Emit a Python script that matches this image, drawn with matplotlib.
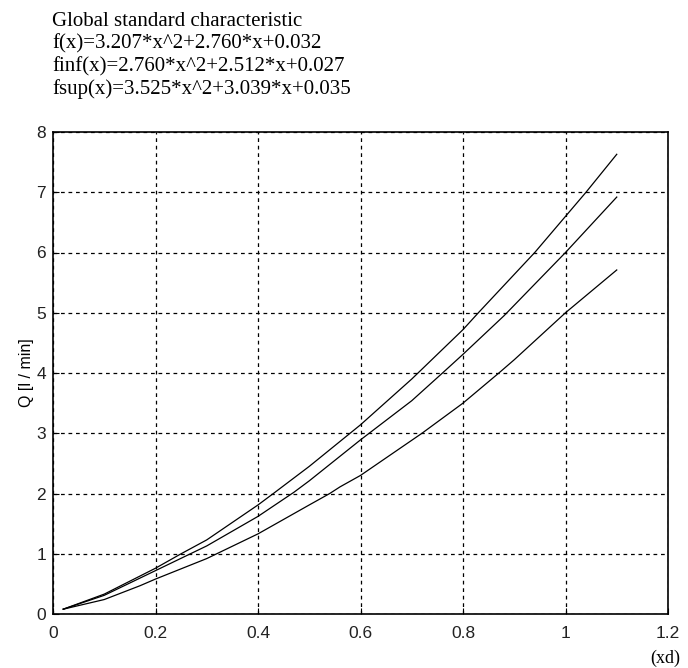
import matplotlib.pyplot as plt

# curves (x = xd, y = Q)
x_sup = [0.02, 0.10, 0.20, 0.25, 0.30, 0.40, 0.43, 0.50, 0.60, 0.70, 0.80, 0.83, 0.94, 1.04, 1.10]
y_sup = [0.08, 0.33, 0.76, 1.00, 1.23, 1.81, 2.00, 2.45, 3.14, 3.90, 4.72, 5.00, 6.00, 7.00, 7.63]

x_mid = [0.02, 0.10, 0.20, 0.30, 0.40, 0.47, 0.50, 0.60, 0.70, 0.76, 0.80, 0.88, 1.00, 1.10]
y_mid = [0.08, 0.31, 0.72, 1.13, 1.62, 2.02, 2.21, 2.89, 3.54, 4.00, 4.31, 4.95, 6.00, 6.92]

x_inf = [0.02, 0.10, 0.17, 0.20, 0.30, 0.40, 0.50, 0.54, 0.56, 0.60, 0.72, 0.80, 0.87, 0.90, 1.00, 1.10]
y_inf = [0.08, 0.24, 0.47, 0.58, 0.92, 1.33, 1.81, 2.00, 2.11, 2.30, 3.00, 3.50, 4.00, 4.22, 5.00, 5.71]

x_ticks = [0, 0.2, 0.4, 0.6, 0.8, 1, 1.2]
x_tick_labels = ['0', '0.2', '0.4', '0.6', '0.8', '1', '1.2']
y_ticks = [0, 1, 2, 3, 4, 5, 6, 7, 8]

header = ['Global standard characteristic',
          'f(x)=3.207*x^2+2.760*x+0.032',
          'finf(x)=2.760*x^2+2.512*x+0.027',
          'fsup(x)=3.525*x^2+3.039*x+0.035']

fig = plt.figure(figsize=(6.88, 6.68), dpi=100)
ax = fig.add_axes([53 / 688, 54 / 668, 615 / 688, 482 / 668])

for xs, ys in [(x_sup, y_sup), (x_mid, y_mid), (x_inf, y_inf)]:
    ax.plot(xs, ys, color='black', lw=0.9)

ax.set_xlim(0, 1.2)
ax.set_ylim(0, 8)
ax.set_xticks(x_ticks)
ax.set_xticklabels(x_tick_labels)
ax.set_yticks(y_ticks)
ax.grid(True, color='black', linestyle=(0, (3, 3)), lw=0.9)
ax.tick_params(direction='in', length=4, labelsize=12.5)
ax.tick_params(axis='x', pad=9)
ax.tick_params(axis='y', pad=5)
for lab in ax.get_xticklabels() + ax.get_yticklabels():
    lab.set_family('Liberation Sans')
    lab.set_color('#222222')
for sp in ax.spines.values():
    sp.set_linewidth(1.2)

ax.set_ylabel('Q [l / min]', family='Liberation Sans', fontsize=11.5, labelpad=2)

fig.text(665 / 688, 1 - 658 / 668, '(xd)', family='Liberation Serif', fontsize=13,
         ha='center', va='center')

for i, line in enumerate(header):
    fig.text(52 / 688, 1 - (21 + 22.7 * i) / 668, line, family='Liberation Serif',
             fontsize=15, ha='left', va='center')

fig.savefig('out.png', dpi=100)
